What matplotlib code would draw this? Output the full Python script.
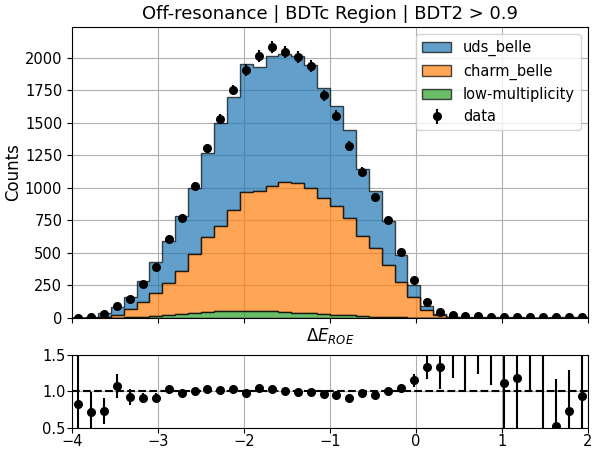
import matplotlib.pyplot as plt
import numpy as np

# binning of Delta E_ROE
bin_lo, bin_hi, n_bins = -4.0, 2.0, 40

# stacked MC templates (counts per bin)
low_mult = [0, 0, 1, 2, 4, 9, 16, 26, 32, 38,
            46, 50, 52, 52, 55, 52, 48, 42, 36, 30,
            24, 20, 14, 10, 7, 5, 3, 2, 1, 0,
            0, 0, 0, 0, 0, 0, 0, 0, 0, 0]
charm_top = [0, 1, 4, 26, 69, 120, 190, 266, 363, 488,
             619, 708, 828, 964, 972, 1015, 1041, 1033, 1000, 920,
             862, 765, 632, 534, 409, 274, 159, 62, 22, 8,
             3, 3, 2, 3, 2, 1, 1, 3, 2, 2]
mc_total = [2.4, 8.4, 41, 88, 160, 284, 430, 588, 782, 1002,
            1265, 1500, 1700, 1950, 1925, 2010, 2030, 2015, 1945, 1765,
            1630, 1445, 1148, 975, 745, 485, 250, 92, 33, 11,
            6, 7, 4, 7.2, 4.2, 3.5, 2, 9.4, 6.8, 5.3]

# observed data
data = [2, 6, 30, 95, 148, 259, 393, 610, 766, 1012,
        1303, 1530, 1751, 1905, 2014, 2084, 2040, 2005, 1935, 1710,
        1555, 1320, 1125, 930, 752, 509, 288, 123, 44, 20,
        15, 15, 8, 8, 5, 8, 10, 5, 5, 5]

# ratio uncertainty (data + MC stat.)
ratio_err = [0.9, 0.284, 0.18, 0.165, 0.105, 0.07, 0.06, 0.045, 0.04, 0.035,
             0.03, 0.03, 0.03, 0.03, 0.03, 0.03, 0.03, 0.03, 0.03, 0.03,
             0.03, 0.03, 0.03, 0.03, 0.04, 0.05, 0.09, 0.17, 0.3, 0.63,
             1.5, 0.91, 0.91, 0.8, 0.8, 1.26, 5.0, 0.64, 0.56, 0.7]

edges = np.linspace(bin_lo, bin_hi, n_bins + 1)
centers = 0.5 * (edges[1:] + edges[:-1])

low_mult = np.array(low_mult, dtype=float)
charm = np.array(charm_top, dtype=float) - low_mult
uds = np.array(mc_total, dtype=float) - np.array(charm_top, dtype=float)
data = np.array(data, dtype=float)
mc = low_mult + charm + uds
ratio = data / mc

fig = plt.figure(figsize=(5.97, 4.49), dpi=100)
ax = fig.add_axes([0.1206, 0.2918, 0.8644, 0.6481])
rax = fig.add_axes([0.1206, 0.0468, 0.8644, 0.1626])

_, _, patches = ax.hist([centers, centers, centers], bins=edges,
                        weights=[low_mult, charm, uds], stacked=True,
                        histtype='stepfilled', alpha=0.7, edgecolor='k',
                        linewidth=1,
                        color=['tab:green', 'tab:orange', 'tab:blue'])
eb = ax.errorbar(centers, data, yerr=np.sqrt(data), fmt='o', color='k',
                 markersize=5.5, elinewidth=1.5)

ax.legend([patches[2][0], patches[1][0], patches[0][0], eb],
          ['uds_belle', 'charm_belle', 'low-multiplicity', 'data'],
          loc='upper right', fontsize=10.5)

ax.set_xlim(bin_lo, bin_hi)
ax.set_ylim(0, 2235)
ax.set_yticks(np.arange(0, 2001, 250))
ax.tick_params(labelsize=10.5, labelbottom=False)
ax.set_ylabel('Counts', fontsize=12, labelpad=2)
ax.set_xlabel(r'$\Delta E_{ROE}$', fontsize=12, labelpad=2)
ax.set_title('Off-resonance | BDTc Region | BDT2 > 0.9', fontsize=13)
ax.grid(True)
ax.set_axisbelow(True)

rax.errorbar(centers, ratio, yerr=ratio_err, fmt='o', color='k',
             markersize=5.5, elinewidth=1.5)
rax.axhline(1.0, color='k', linestyle='--', linewidth=1.5)
rax.set_xlim(bin_lo, bin_hi)
rax.set_ylim(0.5, 1.5)
rax.set_yticks([0.5, 1.0, 1.5])
rax.tick_params(labelsize=10.5, pad=1)
rax.grid(True)

fig.savefig('out.png', dpi=100)
